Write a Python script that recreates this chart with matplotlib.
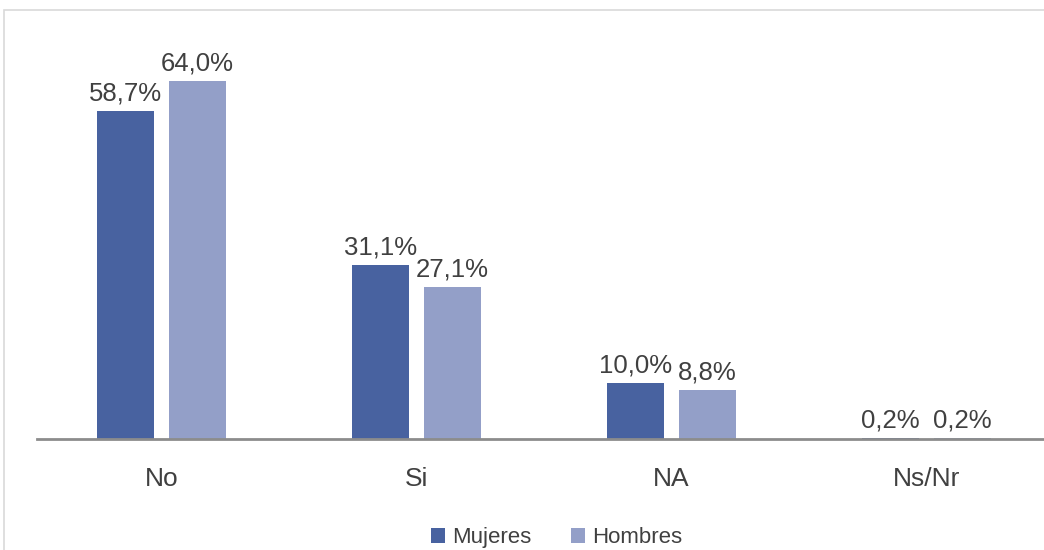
import matplotlib
matplotlib.use('Agg')
import matplotlib.pyplot as plt
from matplotlib.patches import Rectangle
import numpy as np

# data
categories = ['No', 'Si', 'NA', 'Ns/Nr']
mujeres = [58.7, 31.1, 10.0, 0.2]
hombres = [64.0, 27.1, 8.8, 0.2]
series_names = ['Mujeres', 'Hombres']

col_muj = '#4862a0'
col_hom = '#939fc8'
txt_col = '#404040'

plt.rcParams['font.family'] = ['Liberation Sans', 'DejaVu Sans']

fig = plt.figure(figsize=(10.44, 5.5), dpi=100)
# axes runs slightly off the right edge, like the source
ax = fig.add_axes([34 / 1044, 111 / 550, 1020 / 1044, 391.6 / 550])

x = np.arange(len(categories))
w = 0.224
off = 0.141
b1 = ax.bar(x - off, mujeres, w, color=col_muj, label=series_names[0])
b2 = ax.bar(x + off, hombres, w, color=col_hom, label=series_names[1])

def fmt(v):
    return f'{v:.1f}%'.replace('.', ',')

for bars, vals in ((b1, mujeres), (b2, hombres)):
    for r, v in zip(bars, vals):
        ax.annotate(fmt(v), (r.get_x() + r.get_width() / 2, r.get_height()),
                    xytext=(0, 4), textcoords='offset points',
                    ha='center', va='bottom', fontsize=18.5, color=txt_col)

ax.set_xlim(-0.5, 3.5)
ax.set_ylim(0, 70)
ax.set_yticks([])
ax.set_xticks(x)
ax.set_xticklabels(categories, fontsize=19, color=txt_col)
ax.tick_params(axis='x', length=0, pad=20)
for s in ('top', 'right', 'left', 'bottom'):
    ax.spines[s].set_visible(False)
# baseline starts a little right of the axes edge in the source
ax.axhline(0, xmin=3 / 1020, xmax=1, color='#8c8c8c', linewidth=2, clip_on=False)

# light frame around the chart area
fig.patches.append(Rectangle((4 / 1044, -0.1), 1.1, 1.1 - 10 / 550,
                             transform=fig.transFigure, fill=False,
                             edgecolor='#d9d9d9', linewidth=1.2))

fig.legend(loc='center', bbox_to_anchor=(0.533, 0.022), ncol=2, frameon=False,
           fontsize=16, labelcolor=txt_col, handlelength=0.65, handleheight=0.65,
           handletextpad=0.3, columnspacing=1.8)

fig.savefig('out.png', dpi=100)
